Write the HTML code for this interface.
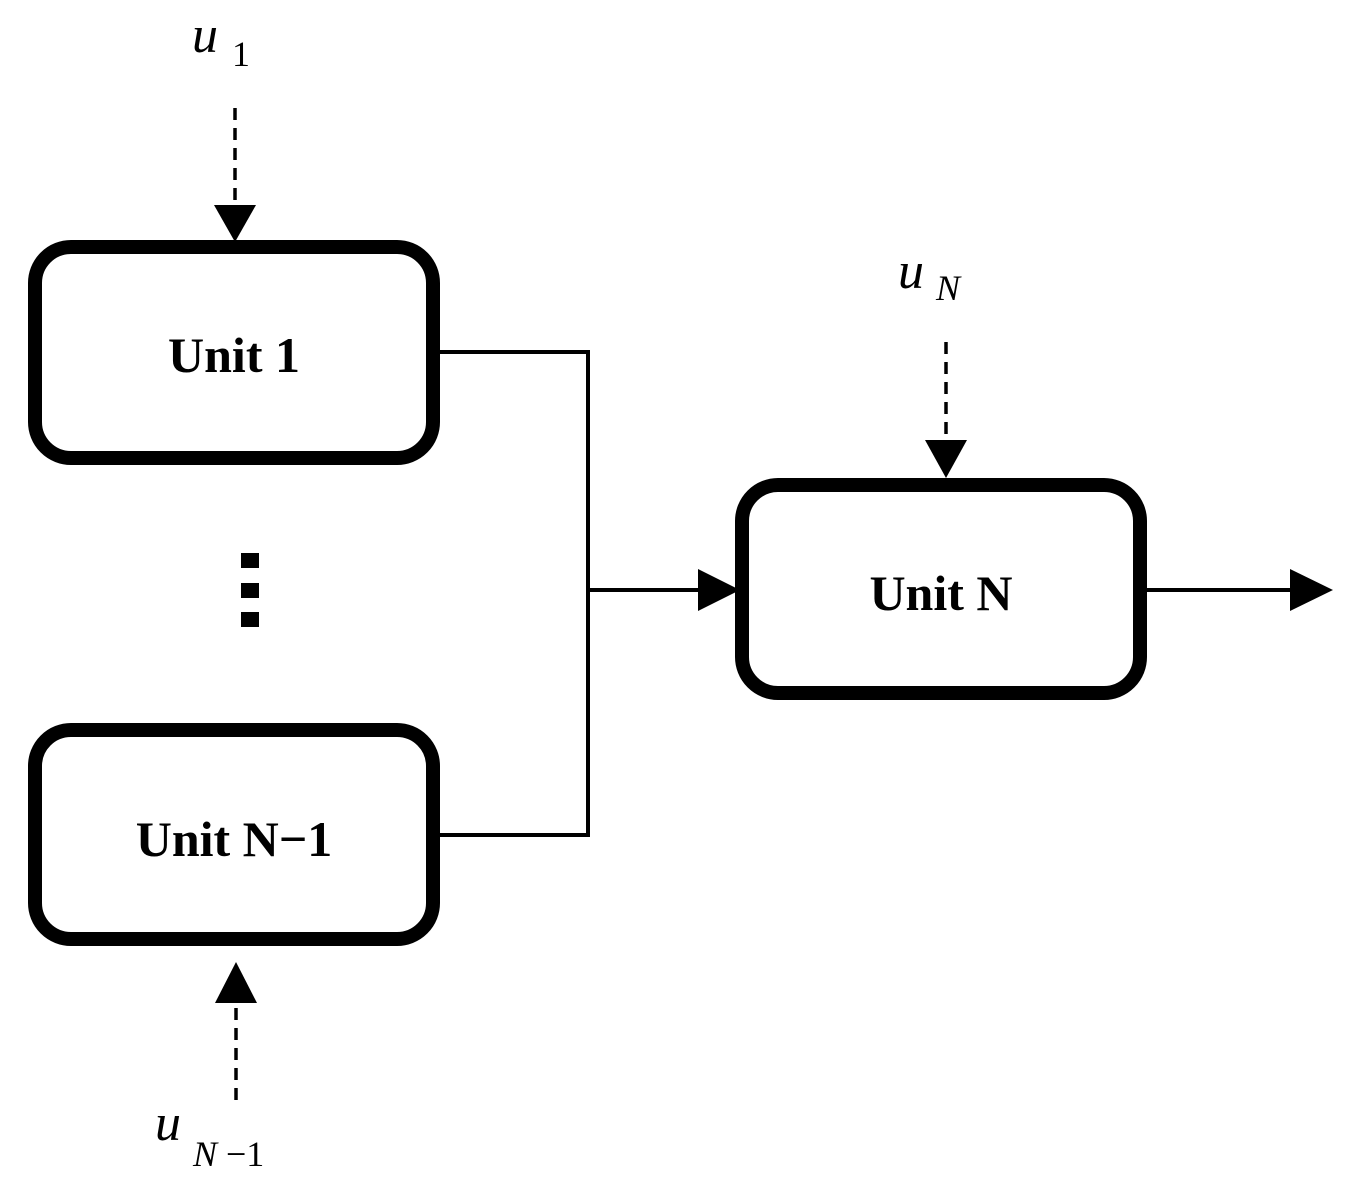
<!DOCTYPE html>
<html><head><meta charset="utf-8"><style>
html,body{margin:0;padding:0;background:#fff;}
svg{display:block;}
text{font-family:"Liberation Serif",serif;}
.lbl{font-weight:bold;font-size:50px;}
.m{font-style:italic;font-size:52px;}
.s{font-style:italic;font-size:36px;}
.sn{font-size:36px;}
</style></head><body>
<svg width="1353" height="1193" viewBox="0 0 1353 1193" xmlns="http://www.w3.org/2000/svg">
<g fill="none" stroke="#000">
<rect x="35" y="247" width="398" height="211" rx="36" stroke-width="14"/>
<rect x="35" y="730" width="398" height="209" rx="36" stroke-width="14"/>
<rect x="742" y="485" width="398" height="208" rx="36" stroke-width="14"/>
<polyline points="440,352 588,352 588,835 440,835" stroke-width="4"/>
<line x1="588" y1="590" x2="702" y2="590" stroke-width="4"/>
<line x1="1147" y1="590" x2="1292" y2="590" stroke-width="4"/>
<line x1="235" y1="108" x2="235" y2="205" stroke-width="3.5" stroke-dasharray="12,8"/>
<line x1="946" y1="342" x2="946" y2="440" stroke-width="3.5" stroke-dasharray="12,8"/>
<line x1="236" y1="1100" x2="236" y2="1005" stroke-width="3.5" stroke-dasharray="12,8"/>
</g>
<g fill="#000">
<polygon points="214,205 256,205 235,242"/>
<polygon points="925,440 967,440 946,478"/>
<polygon points="215,1003 257,1003 236,962"/>
<polygon points="698,569 698,611 740,590"/>
<polygon points="1290,569 1290,611 1333,590"/>
<rect x="241" y="553" width="18" height="15"/>
<rect x="241" y="583" width="18" height="15"/>
<rect x="241" y="612" width="18" height="15"/>
</g>
<text class="lbl" x="234" y="372" text-anchor="middle">Unit 1</text>
<text class="lbl" x="234" y="856" text-anchor="middle">Unit N−1</text>
<text class="lbl" x="941" y="610" text-anchor="middle">Unit N</text>
<text class="m" x="192" y="52">u</text><text class="sn" x="232" y="66">1</text>
<text class="m" x="898" y="288">u</text><text class="s" x="936" y="300">N</text>
<text class="m" x="155" y="1140">u</text><text class="s" x="193" y="1166">N</text><text class="sn" x="226" y="1166">−1</text>
</svg>
</body></html>
